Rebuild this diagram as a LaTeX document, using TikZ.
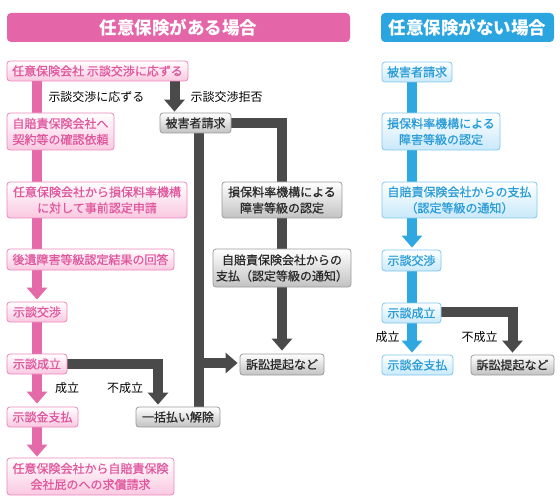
\documentclass[tikz,border=0pt]{standalone}
\usepackage{fontspec}
\setmainfont{Noto Sans CJK JP}
\newfontfamily\boxfont{Noto Sans CJK JP}[FakeBold=0.7]
\usetikzlibrary{arrows.meta,calc,backgrounds}
\definecolor{phead}{HTML}{E466A9}
\definecolor{pline}{HTML}{E46AAA}
\definecolor{pborder}{HTML}{EC86BC}
\definecolor{ptext}{HTML}{E0579D}
\definecolor{pfill}{HTML}{FAC8E1}
\definecolor{bhead}{HTML}{2BA5E0}
\definecolor{bline}{HTML}{2FA8E1}
\definecolor{bborder}{HTML}{7EC7EC}
\definecolor{btext}{HTML}{2A9CD8}
\definecolor{bfill}{HTML}{C9E9FA}
\definecolor{dline}{HTML}{4A4A4A}
\definecolor{gborder}{HTML}{9A9A9A}
\definecolor{gtext}{HTML}{2A2A2A}
\definecolor{gfill}{HTML}{C2C2C2}
\tikzset{
  base/.style={rounded corners=3pt, inner sep=0pt, align=center,
    font=\boxfont\fontsize{12pt}{16pt}\selectfont, line width=0.8pt},
  pbox/.style={base, draw=pborder, top color=white, bottom color=pfill, text=ptext},
  bbox/.style={base, draw=bborder, top color=white, bottom color=bfill, text=btext},
  gbox/.style={base, draw=gborder, top color=white, bottom color=gfill, text=gtext},
  hbox/.style={rounded corners=4pt, inner sep=0pt, text=white,
    font=\fontsize{17.5pt}{20pt}\selectfont\bfseries},
  lbl/.style={font=\fontsize{12pt}{14pt}\selectfont, text=black, inner sep=0pt},
  pln/.style={draw=pline, line width=10pt},
  parr/.style={pln, -{Triangle[width=20pt,length=12pt]}},
  bln/.style={draw=bline, line width=10pt},
  barr/.style={bln, -{Triangle[width=20pt,length=12pt]}},
  dln/.style={draw=dline, line width=10pt},
  darr/.style={dln, -{Triangle[width=20pt,length=12pt]}},
}
\begin{document}
\begin{tikzpicture}[x=1pt,y=-1pt]
\useasboundingbox (0,0) rectangle (560,500);
% headers
\node[hbox, fill=phead, minimum width=343pt, minimum height=29pt] (hp) at (178.5,27.5) {任意保険がある場合};
\node[hbox, fill=bhead, minimum width=173pt, minimum height=29pt] (hb) at (467.5,27.5) {任意保険がない場合};

% pink boxes
\node[pbox, minimum width=181pt, minimum height=20pt] (p1) at (97.5,71) {任意保険会社 示談交渉に応ずる};
\node[pbox, minimum width=107pt, minimum height=37pt] (p2) at (60.5,131.5) {自賠責保険会社へ\\契約等の確認依頼};
\node[pbox, minimum width=180pt, minimum height=36pt] (p3) at (97,200) {任意保険会社から損保料率機構\\に対して事前認定申請};
\node[pbox, minimum width=167pt, minimum height=21pt] (p4) at (90.5,259.5) {後遺障害等級認定結果の回答};
\node[pbox, minimum width=60pt, minimum height=20pt] (p5) at (37,312) {示談交渉};
\node[pbox, minimum width=60pt, minimum height=20pt] (p6) at (37,364) {示談成立};
\node[pbox, minimum width=71pt, minimum height=20pt] (p7) at (42.5,417) {示談金支払};
\node[pbox, minimum width=167pt, minimum height=37pt] (p8) at (90.5,476.5) {任意保険会社から自賠責保険\\会社屁のへの求償請求};

% gray boxes (left)
\node[gbox, minimum width=71pt, minimum height=20pt] (g1) at (195.5,123) {被害者請求};
\node[gbox, minimum width=120pt, minimum height=36pt] (g2) at (282,200) {損保料率機構による\\障害等級の認定};
\node[gbox, minimum width=138pt, minimum height=38pt] (g3) at (282,268) {自賠責保険会社からの\\支払（認定等級の通知）};
\node[gbox, minimum width=84pt, minimum height=21pt] (g4) at (282,364.5) {訴訟提起など};
\node[gbox, minimum width=84pt, minimum height=20pt] (g5) at (178,417) {一括払い解除};

% blue boxes
\node[bbox, minimum width=70pt, minimum height=20pt] (b1) at (417,72) {被害者請求};
\node[bbox, minimum width=118pt, minimum height=37pt] (b2) at (441,131.5) {損保料率機構による\\障害等級の認定};
\node[bbox, minimum width=155pt, minimum height=36pt] (b3) at (459.5,200) {自賠責保険会社からの支払\\（認定等級の通知）};
\node[bbox, minimum width=59pt, minimum height=21pt] (b4) at (411.5,260.5) {示談交渉};
\node[bbox, minimum width=59pt, minimum height=20pt] (b5) at (411.5,313) {示談成立};
\node[bbox, minimum width=71pt, minimum height=20pt] (b6) at (417.5,365) {示談金支払};
\node[gbox, minimum width=83pt, minimum height=20pt] (g6) at (512.5,365) {訴訟提起など};

% labels
\node[lbl] (l1) at (96.5,97) {示談交渉に応ずる};
\node[lbl] (l2) at (226.5,97) {示談交渉拒否};
\node[lbl] (l3) at (67,388) {成立};
\node[lbl] (l4) at (125,388) {不成立};
\node[lbl] (l5) at (387.5,337) {成立};
\node[lbl] (l6) at (479.5,337) {不成立};

% lane coordinates
\coordinate (la) at (174.5,0);
\coordinate (lv) at (199,0);
\coordinate (lg) at (158,0);
\coordinate (lb) at (412,0);

\begin{scope}[on background layer]
% pink connectors
\draw[parr] (p5.north |- p1.south) -- ([yshift=2pt]p5.north);
\draw[pln] (p5.south) -- (p6.north);
\draw[parr] (p6.south) -- ([yshift=3pt]p6.south |- p7.north);
\draw[parr] (p6.south |- p7.south) -- ([yshift=1pt]p6.south |- p8.north);
% blue connectors
\draw[barr] (lb |- b1.south) -- ([yshift=2pt]lb |- b4.north);
\draw[bln] (lb |- b4.south) -- (lb |- b5.north);
\draw[barr] (lb |- b5.south) -- ([yshift=2pt]lb |- b6.north);
% dark connectors
\draw[darr] (la |- p1.south) -- ([yshift=1pt]la |- g1.north);
\draw[dln] (lv |- g1.south) -- (lv |- g5.north);
\draw[darr] ([yshift=1.5pt]lv |- g4.west) -- ([xshift=-2pt,yshift=1.5pt]g4.west);
\draw[darr] (g1.east) -| ([yshift=3pt]g4.north);
\draw[darr] (p6.east) -| ([yshift=2pt]lg |- g5.north);
\draw[darr] ([yshift=1pt]b5.east) -| ([yshift=2pt]g6.north);
\end{scope}
\end{tikzpicture}
\end{document}
